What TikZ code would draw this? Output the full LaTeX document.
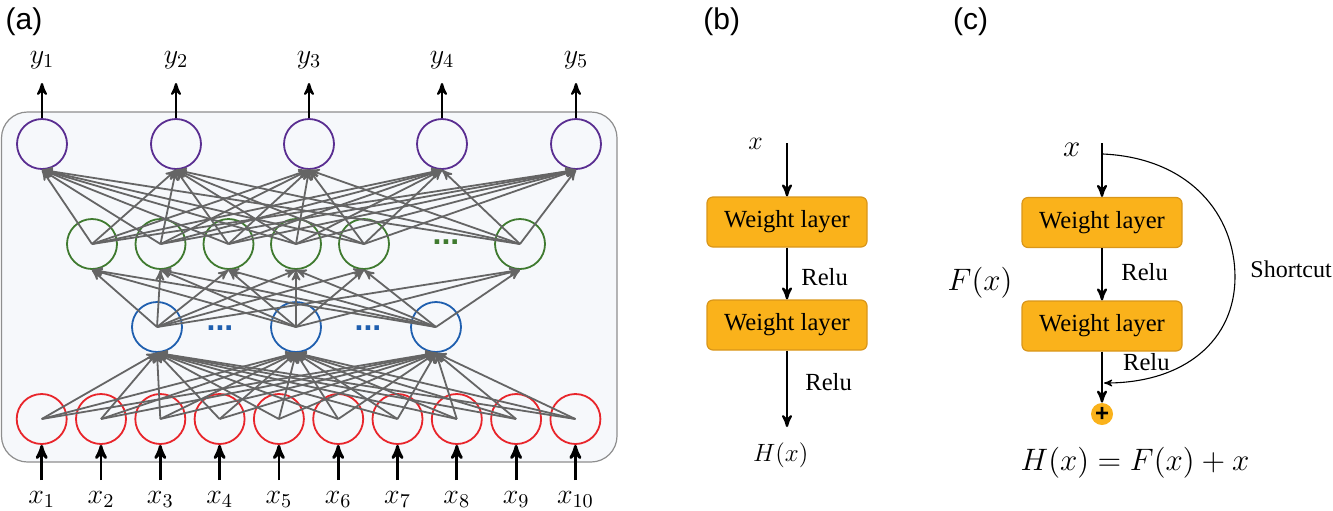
\RequirePackage{fix-cm}
\documentclass[tikz,border=0pt]{standalone}
\usepackage{amsmath}
\usepackage{fontspec}
\setmainfont{Liberation Serif}
\newfontfamily\panelfont{Liberation Sans}
\usepackage{tikz}
\usetikzlibrary{arrows}
\definecolor{outcol}{HTML}{5A2E91}
\definecolor{hidcolB}{HTML}{3F7A2F}
\definecolor{hidcolA}{HTML}{1F5FAF}
\definecolor{incol}{HTML}{E8252B}
\definecolor{linkgray}{HTML}{656565}
\definecolor{boxfill}{HTML}{FAB21B}
\definecolor{boxedge}{HTML}{D9961A}
\definecolor{netbg}{HTML}{F6F8FB}
\definecolor{netedge}{HTML}{8E8E8E}
\tikzset{
	neuron/.style={circle,draw,line width=0.9pt,minimum size=25pt,inner sep=0pt},
	link/.style={->,>=stealth',draw=linkgray,line width=0.9pt},
	io arrow/.style={->,>=stealth',line width=1.1pt},
	weight box/.style={rectangle,rounded corners=3pt,draw=boxedge,fill=boxfill,line width=0.6pt,
		minimum width=80pt,minimum height=25pt,font=\fontsize{12.3}{14}\selectfont},
	lbl/.style={inner sep=0pt,anchor=base},
	relu/.style={inner sep=0pt,anchor=base west,font=\fontsize{12.3}{14}\selectfont},
	dots/.style={inner sep=0pt,anchor=base,font=\panelfont\bfseries\fontsize{16}{18}\selectfont},
	panel/.style={inner sep=0pt,anchor=base,font=\panelfont\fontsize{15}{18}\selectfont}
}

\begin{document}
\begin{tikzpicture}[x=0.5pt,y=-0.5pt]
	\useasboundingbox (0,0) rectangle (1333,510);
	% (a) network
	\node[panel] (pa) at (24,29) {(a)};
	\draw[draw=netedge,fill=netbg,line width=0.6pt,rounded corners=13pt] (1.5,112) rectangle (617,462);
	\foreach \x [count=\i] in {41.7,101,160.3,219.6,278.9,338.2,397.5,456.8,516.1,575.4}{
		\node[neuron,draw=incol] (in\i) at (\x,419) {};
		\coordinate (bot\i) at (\x,480);
		\node[lbl,font=\fontsize{14}{16}\selectfont] (xlab\i) at (\x,503) {$x_{\i}$};
	}
	\foreach \x [count=\i] in {157,296,436}
		\node[neuron,draw=hidcolA] (hA\i) at (\x,327) {};
	\foreach \x [count=\i] in {92,160.5,228.5,296,364,520}
		\node[neuron,draw=hidcolB] (hB\i) at (\x,244) {};
	\foreach \x [count=\i] in {42,176,309,442,576}{
		\node[neuron,draw=outcol] (out\i) at (\x,144) {};
		\coordinate (top\i) at (\x,83);
		\node[lbl,font=\fontsize{14}{16}\selectfont] (ylab\i) at (\x,63) {$y_{\i}$};
	}
	\node[dots,text=hidcolA] (dA1) at (220,330) {...};
	\node[dots,text=hidcolA] (dA2) at (368,330) {...};
	\node[dots,text=hidcolB] (dB1) at (446,244) {...};
	% links
	\foreach \i in {1,...,10}
		\foreach \j in {1,2,3}
			\draw[link] (in\i.center) -- (hA\j.south);
	\foreach \i in {1,2,3}
		\foreach \j in {1,...,6}
			\draw[link] (hA\i.center) -- (hB\j.south);
	\foreach \i in {1,...,6}
		\foreach \j in {1,...,5}
			\draw[link] (hB\i.center) -- (out\j.south);
	\foreach \i in {1,...,10}
		\draw[io arrow,line width=1.4pt] (bot\i) -- (in\i);
	\foreach \i in {1,...,5}
		\draw[io arrow] (out\i) -- (top\i);

	% (b) plain block
	\node[panel] (pb) at (721.7,29) {(b)};
	\node[lbl,font=\fontsize{13}{15}\selectfont] (xb) at (755.6,149) {$x$};
	\coordinate (xbin) at (787,143);
	\node[weight box] (wb1) at (787,222) {Weight layer};
	\node[weight box] (wb2) at (787,325) {Weight layer};
	\coordinate (hbout) at (787,427);
	\draw[io arrow] (xbin) -- (wb1);
	\draw[io arrow] (wb1) -- (wb2);
	\draw[io arrow] (wb2) -- (hbout);
	\node[relu] (rb1) at (801,285) {Relu};
	\node[relu] (rb2) at (805,390) {Relu};
	\node[lbl,font=\fontsize{12.5}{14}\selectfont] (hb) at (780.8,461) {$H(x)$};

	% (c) residual block
	\node[panel] (pc) at (970.5,29) {(c)};
	\node[lbl,font=\fontsize{15.5}{17}\selectfont] (xc) at (1071.7,156.7) {$x$};
	\coordinate (xcin) at (1102,143);
	\node[weight box] (wc1) at (1102,222.5) {Weight layer};
	\node[weight box] (wc2) at (1102,326) {Weight layer};
	\node[circle,fill=boxfill,minimum size=11pt,inner sep=0pt,font=\panelfont\fontsize{12}{12}\selectfont\bfseries] (sum) at (1102,414) {+};
	\draw[io arrow] (xcin) -- (wc1);
	\draw[io arrow] (wc1) -- (wc2);
	\draw[io arrow] (wc2) -- (sum);
	\coordinate (scstart) at (1103,154);
	\coordinate (scend) at (1104,383);
	\draw[->,>=stealth',line width=0.55pt] (scstart) .. controls (1190,158) and (1235,215) .. (1235,277)
		.. controls (1235,340) and (1185,383) .. (scend);
	\node[relu] (rc1) at (1121,280) {Relu};
	\node[relu] (rc2) at (1122.7,370) {Relu};
	\node[relu,font=\fontsize{12}{14}\selectfont] (sc) at (1250,277) {Shortcut};
	\node[lbl,font=\fontsize{15.5}{17}\selectfont] (fx) at (980,290) {$F(x)$};
	\node[lbl,font=\fontsize{15.5}{17}\selectfont] (hc) at (1135,470) {$H(x)=F(x)+x$};
\end{tikzpicture}
\end{document}
